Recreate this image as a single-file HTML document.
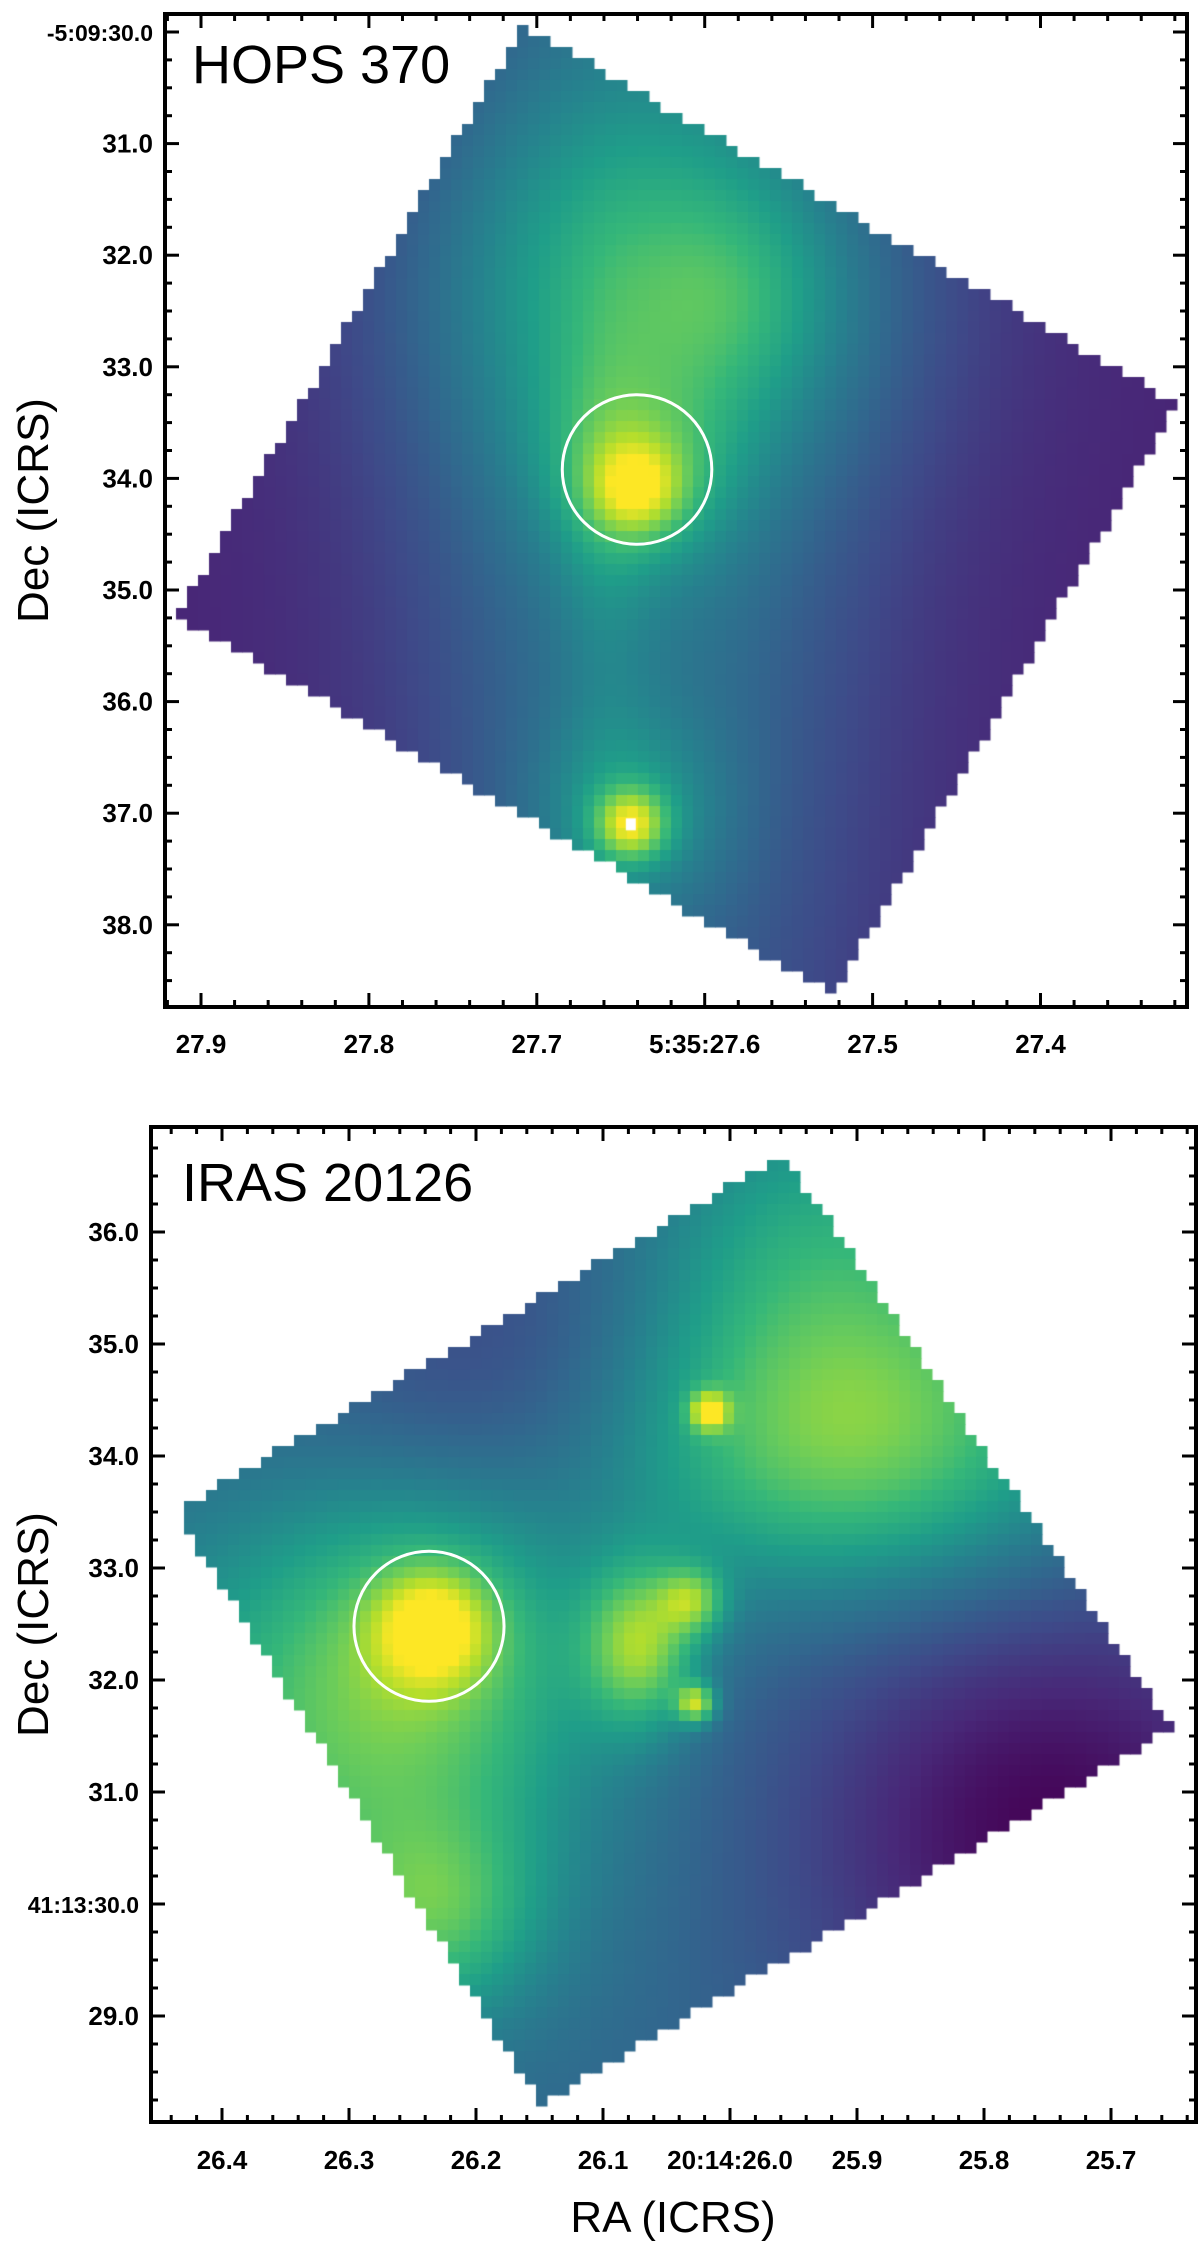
<!DOCTYPE html>
<html><head><meta charset="utf-8">
<style>
html,body{margin:0;padding:0;background:#fff;}
#root{position:relative;width:1200px;height:2248px;overflow:hidden;background:#fff;font-family:"Liberation Sans",sans-serif;}
canvas{position:absolute;}
svg{position:absolute;left:0;top:0;}
</style></head>
<body>
<div id="root">
<canvas id="c1"></canvas>
<canvas id="c2"></canvas>
<svg id="ov" width="1200" height="2248"></svg>
</div>
<script>
// ---------- Panel 1 data (HOPS 370) ----------
const p1RaTicks = [27.9, 27.8, 27.7, 27.6, 27.5, 27.4];
const p1RaLabels = ["27.9", "27.8", "27.7", "5:35:27.6", "27.5", "27.4"];
const p1DecTicks = [30, 31, 32, 33, 34, 35, 36, 37, 38];
const p1DecLabels = ["-5:09:30.0", "31.0", "32.0", "33.0", "34.0", "35.0", "36.0", "37.0", "38.0"];
const p1FootRa = [27.7082, 27.3187, 27.5236, 27.9143];
const p1FootDec = [29.94, 33.33, 38.63, 35.23];
const p1SrcRa = [27.64, 27.62, 27.640, 27.64, 27.644, 27.645, 27.585, 27.66];
const p1SrcDec = [33.5, 32.3, 34.10, 33.9, 37.1, 37.0, 32.4, 34.6];
const p1SrcAmp = [0.30, 0.28, 0.34, 0.20, 0.46, 0.20, 0.10, 0.08];
const p1SrcSx = [1.5, 1.6, 0.3, 0.6, 0.22, 0.6, 0.6, 0.3];
const p1SrcSy = [6.0, 1.3, 0.3, 0.6, 0.22, 0.6, 0.6, 1.5];
const p1Base = 0.1;
const p1CircleRa = [27.6403];
const p1CircleDec = [33.92];
const p1CircleR = [0.67];

// ---------- Panel 2 data (IRAS 20126) ----------
const p2RaTicks = [26.4, 26.3, 26.2, 26.1, 26.0, 25.9, 25.8, 25.7];
const p2RaLabels = ["26.4", "26.3", "26.2", "26.1", "20:14:26.0", "25.9", "25.8", "25.7"];
const p2DecTicks = [36, 35, 34, 33, 32, 31, 30, 29];
const p2DecLabels = ["36.0", "35.0", "34.0", "33.0", "32.0", "31.0", "41:13:30.0", "29.0"];
const p2FootRa = [25.9583, 25.6512, 26.1496, 26.4362];
const p2FootDec = [36.69, 31.57, 28.21, 33.51];
const p2SrcRa = [26.234, 26.234, 26.0165, 26.027, 26.070, 26.030, 25.917, 26.229, 25.827, 26.299, 25.748, 26.192, 25.945];
const p2SrcDec = [32.48, 32.48, 34.40, 31.79, 32.31, 32.71, 34.05, 29.91, 35.2, 31.37, 30.65, 34.66, 35.83];
const p2SrcAmp = [0.38, 0.22, 0.48, 0.48, 0.45, 0.33, 0.36, 0.25, 0.16, 0.36, -0.32, -0.12, 0.18];
const p2SrcSx = [0.35, 0.9, 0.12, 0.12, 0.35, 0.2, 1.4, 0.6, 1.5, 1.5, 1.6, 1.2, 1.0];
const p2SrcSy = [0.35, 0.9, 0.12, 0.12, 0.5, 0.2, 0.9, 0.6, 1.5, 1.5, 1.6, 1.2, 1.0];
const p2Base = 0.33;
const p2CircleRa = [26.237];
const p2CircleDec = [32.48];
const p2CircleR = [0.67];

const viridis = [[68,1,84],[72,40,120],[62,74,137],[49,104,142],[38,130,142],[31,158,137],[53,183,121],[109,205,89],[180,222,44],[253,231,37]];
function cmap(v){v=Math.max(0,Math.min(1,v));const t=v*(viridis.length-1);const i=Math.min(viridis.length-2,Math.floor(t));const f=t-i;const a=viridis[i],b=viridis[i+1];return `rgb(${Math.round(a[0]+(b[0]-a[0])*f)},${Math.round(a[1]+(b[1]-a[1])*f)},${Math.round(a[2]+(b[2]-a[2])*f)})`;}

const NS='http://www.w3.org/2000/svg';
const ov=document.getElementById('ov');
function el(tag,attrs,parent){const e=document.createElementNS(NS,tag);for(const k in attrs)e.setAttribute(k,attrs[k]);(parent||ov).appendChild(e);return e;}

function panel(cfg){
  const {L,R,T,B}=cfg;
  const xOf=ra=>cfg.ra0x+(cfg.ra0-ra)*cfg.pxPerSec;
  const yOf=dec=>cfg.dec0y+(dec-cfg.dec0)*cfg.pxPerAs*cfg.decDir;
  const cv=document.getElementById(cfg.canvas);
  cv.width=R-L;cv.height=B-T;cv.style.left=L+'px';cv.style.top=T+'px';
  const ctx=cv.getContext('2d');
  const poly=cfg.footRa.map((r,i)=>[xOf(r),yOf(cfg.footDec[i])]);
  function inside(x,y){let c=false;for(let i=0,j=poly.length-1;i<poly.length;j=i++){const[xi,yi]=poly[i],[xj,yj]=poly[j];if(((yi>y)!=(yj>y))&&(x<(xj-xi)*(y-yi)/(yj-yi)+xi))c=!c;}return c;}
  const srcX=cfg.srcRa.map(xOf),srcY=cfg.srcDec.map(yOf);
  const cell=11;
  for(let y=T;y<B;y+=cell){for(let x=L;x<R;x+=cell){
    const cx=x+cell/2,cy=y+cell/2;
    if(!inside(cx,cy))continue;
    let v=cfg.base;
    for(let k=0;k<srcX.length;k++){const dx=(cx-srcX[k])/(cfg.srcSx[k]*cfg.pxPerAs),dy=(cy-srcY[k])/(cfg.srcSy[k]*cfg.pxPerAs);v+=cfg.srcAmp[k]*Math.exp(-0.5*(dx*dx+dy*dy));}
    ctx.fillStyle=cmap(v);ctx.fillRect(x-L,y-T,cell+0.5,cell+0.5);
  }}
  if(cfg.whitePix){ctx.fillStyle='#fff';ctx.fillRect(xOf(cfg.whitePix[0])-L-5,yOf(cfg.whitePix[1])-T-6,10,12);}
  const g=el('g',{});
  
  
  cfg.cRa.forEach((r,i)=>{const c=el('circle',{cx:xOf(r),cy:yOf(cfg.cDec[i]),r:cfg.cR[i]*cfg.pxPerAs,fill:'none',stroke:'#fff','stroke-width':3},g);
    });
  const fr=el('rect',{x:L,y:T,width:R-L,height:B-T,fill:'none',stroke:'#000','stroke-width':4},g);
  
  const step=(cfg.raTicks[1]-cfg.raTicks[0]);
  for(let i=-2;i<cfg.raTicks.length*5+5;i++){
    const ra=cfg.raTicks[0]+step*i/5;const x=xOf(ra);if(x<L+2||x>R-2)continue;
    const len=(i%5===0)?14:7;
    el('line',{x1:x,y1:B,x2:x,y2:B-len,stroke:'#000','stroke-width':3},g);
    el('line',{x1:x,y1:T,x2:x,y2:T+len,stroke:'#000','stroke-width':3},g);
  }
  cfg.raTicks.forEach((ra,i)=>{const t=el('text',{x:xOf(ra),y:cfg.xLabY,'text-anchor':'middle','font-size':26,'font-weight':'bold','font-family':'Liberation Sans, sans-serif'},g);t.textContent=cfg.raLabels[i];
    });
  const dstep=cfg.decTicks[1]-cfg.decTicks[0];
  for(let i=-4;i<cfg.decTicks.length*4+4;i++){
    const d=cfg.decTicks[0]+dstep*i/4;const y=yOf(d);if(y<T+2||y>B-2)continue;
    const len=(i%4===0)?14:7;
    el('line',{x1:L,y1:y,x2:L+len,y2:y,stroke:'#000','stroke-width':3},g);
    el('line',{x1:R,y1:y,x2:R-len,y2:y,stroke:'#000','stroke-width':3},g);
  }
  cfg.decTicks.forEach((d,i)=>{const t=el('text',{x:L-12,y:yOf(d)+9,'text-anchor':'end','font-size':26,'font-weight':'bold','font-family':'Liberation Sans, sans-serif'},g);t.textContent=cfg.decLabels[i];
    if(cfg.decLabels[i].length>6)t.setAttribute('font-size',23);
    });
  const ti=el('text',{x:cfg.titleX,y:cfg.titleY,'font-size':54,'font-family':'Liberation Sans, sans-serif'},g);ti.textContent=cfg.title;
  
  const yl=el('text',{x:0,y:0,'font-size':44,'text-anchor':'middle','font-family':'Liberation Sans, sans-serif',transform:`translate(${cfg.ylabX},${(T+B)/2}) rotate(-90)`},g);yl.textContent='Dec (ICRS)';
  
  return {xOf,yOf};
}

panel({name:'hops370',canvas:'c1',L:165,R:1187,T:14,B:1007,ra0:27.9,ra0x:201,pxPerSec:1679,dec0:30,dec0y:32,pxPerAs:111.6,decDir:1,
  footRa:p1FootRa,footDec:p1FootDec,srcRa:p1SrcRa,srcDec:p1SrcDec,srcAmp:p1SrcAmp,srcSx:p1SrcSx,srcSy:p1SrcSy,base:p1Base,
  cRa:p1CircleRa,cDec:p1CircleDec,cR:p1CircleR,raTicks:p1RaTicks,raLabels:p1RaLabels,decTicks:p1DecTicks,decLabels:p1DecLabels,
  xLabY:1053,title:'HOPS 370',titleX:192,titleY:83,ylabX:48,whitePix:[27.644,37.1]});
panel({name:'iras20126',canvas:'c2',L:151,R:1196,T:1127,B:2122,ra0:26.4,ra0x:222,pxPerSec:1270,dec0:36,dec0y:1232,pxPerAs:112,decDir:-1,
  footRa:p2FootRa,footDec:p2FootDec,srcRa:p2SrcRa,srcDec:p2SrcDec,srcAmp:p2SrcAmp,srcSx:p2SrcSx,srcSy:p2SrcSy,base:p2Base,
  cRa:p2CircleRa,cDec:p2CircleDec,cR:p2CircleR,raTicks:p2RaTicks,raLabels:p2RaLabels,decTicks:p2DecTicks,decLabels:p2DecLabels,
  xLabY:2169,title:'IRAS 20126',titleX:182,titleY:1201,ylabX:48});
const xl=el('text',{x:673,y:2232,'font-size':44,'text-anchor':'middle','font-family':'Liberation Sans, sans-serif'});
xl.textContent='RA (ICRS)';


</script>
</body></html>
